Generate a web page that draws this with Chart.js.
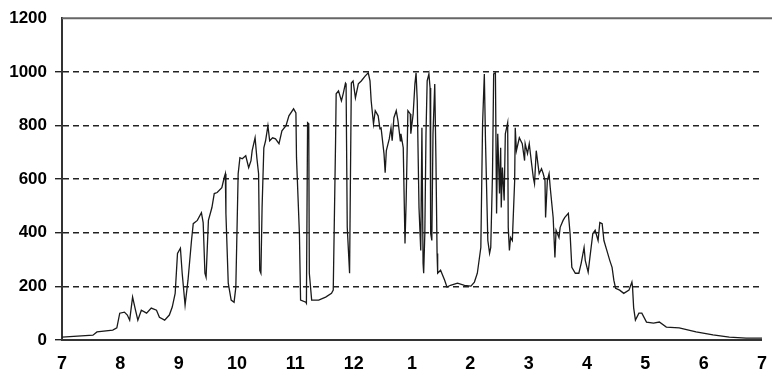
<!DOCTYPE html>
<html>
<head>
<meta charset="utf-8">
<script src="https://cdn.jsdelivr.net/npm/chart.js@4.4.1/dist/chart.umd.min.js"></script>
<style>
  html, body { margin: 0; padding: 0; background: #fff; }
  #wrap { width: 772px; height: 374px; }
</style>
</head>
<body>
<div id="wrap"><canvas id="chart"></canvas></div>
<script>
// hora do dia (decimal, 7h -> 19h) e irradiancia
const horas = [
  7.00, 7.53, 7.60, 7.87, 7.94, 7.99, 8.07, 8.12, 8.16, 8.21, 8.26, 8.30, 8.36, 8.45, 8.53, 8.62, 8.67, 8.76, 8.84, 8.89,
  8.94, 8.98, 9.03, 9.06, 9.11, 9.16, 9.22, 9.25, 9.32, 9.39, 9.42, 9.45, 9.47, 9.51, 9.57, 9.61, 9.66, 9.74, 9.78, 9.80,
  9.81, 9.85, 9.90, 9.95, 9.98, 10.02, 10.05, 10.09, 10.15, 10.20, 10.24, 10.26, 10.31, 10.34, 10.37, 10.39, 10.41, 10.43, 10.46, 10.49,
  10.53, 10.56, 10.61, 10.66, 10.72, 10.77, 10.84, 10.89, 10.97, 11.01, 11.02, 11.07, 11.09, 11.18, 11.19, 11.21, 11.23, 11.24, 11.28, 11.40,
  11.52, 11.62, 11.65, 11.69, 11.70, 11.74, 11.79, 11.82, 11.86, 11.87, 11.89, 11.93, 11.94, 11.96, 11.99, 12.03, 12.08, 12.13, 12.20, 12.25,
  12.28, 12.30, 12.34, 12.37, 12.42, 12.45, 12.47, 12.52, 12.54, 12.56, 12.61, 12.64, 12.66, 12.69, 12.73, 12.76, 12.80, 12.81, 12.85, 12.88,
  12.90, 12.93, 12.97, 12.98, 13.02, 13.05, 13.07, 13.09, 13.12, 13.15, 13.17, 13.19, 13.20, 13.22, 13.24, 13.26, 13.29, 13.31, 13.32, 13.34,
  13.36, 13.39, 13.41, 13.43, 13.44, 13.49, 13.56, 13.60, 13.66, 13.78, 13.90, 14.01, 14.07, 14.12, 14.18, 14.21, 14.24, 14.26, 14.30, 14.33,
  14.35, 14.38, 14.40, 14.43, 14.45, 14.47, 14.50, 14.52, 14.53, 14.55, 14.58, 14.60, 14.64, 14.65, 14.67, 14.69, 14.72, 14.76, 14.77, 14.79,
  14.84, 14.89, 14.93, 14.94, 14.98, 15.01, 15.05, 15.08, 15.10, 15.13, 15.18, 15.22, 15.25, 15.28, 15.29, 15.32, 15.35, 15.37, 15.42, 15.45,
  15.47, 15.52, 15.54, 15.59, 15.62, 15.68, 15.71, 15.74, 15.80, 15.86, 15.90, 15.95, 15.97, 16.02, 16.05, 16.10, 16.14, 16.19, 16.22, 16.26,
  16.29, 16.34, 16.39, 16.43, 16.46, 16.49, 16.56, 16.63, 16.72, 16.77, 16.78, 16.80, 16.83, 16.89, 16.94, 17.02, 17.14, 17.24, 17.36, 17.58,
  17.87, 18.16, 18.44, 18.73, 19.00
];
const irradiancia = [
  11, 18, 30, 37, 45, 100, 104, 93, 74, 160, 111, 74, 111, 100, 119, 111, 85, 74, 93, 123,
  174, 323, 342, 250, 130, 223, 371, 434, 446, 475, 438, 249, 234, 446, 494, 546, 550, 568, 605, 620,
  472, 212, 149, 141, 197, 620, 680, 676, 687, 643, 669, 706, 754, 680, 620, 260, 249, 494, 717, 743,
  799, 743, 754, 750, 732, 780, 799, 836, 862, 847, 680, 397, 149, 141, 137, 810, 806, 249, 149, 149,
  160, 174, 186, 743, 918, 929, 892, 918, 958, 955, 420, 249, 494, 958, 966, 903, 955, 966, 985, 996,
  966, 892, 806, 855, 836, 788, 791, 695, 624, 706, 750, 791, 743, 829, 855, 817, 743, 769, 717, 360,
  520, 855, 843, 769, 843, 955, 996, 892, 494, 334, 791, 286, 249, 397, 769, 966, 992, 940, 397, 371,
  769, 955, 680, 323, 249, 260, 223, 197, 204, 212, 204, 201, 216, 249, 345, 806, 992, 743, 371, 323,
  345, 620, 992, 996, 472, 769, 546, 717, 494, 643, 520, 769, 810, 420, 334, 382, 371, 594, 791, 706,
  754, 732, 669, 732, 695, 732, 658, 605, 583, 706, 620, 639, 620, 594, 457, 594, 620, 568, 457, 308,
  409, 382, 420, 446, 457, 472, 397, 271, 249, 249, 286, 345, 297, 253, 308, 397, 409, 371, 438, 434,
  371, 334, 297, 271, 223, 193, 186, 174, 186, 216, 200, 120, 74, 100, 100, 67, 63, 67, 48, 45,
  30, 19, 11, 7, 7
];
const horasEixo = [7, 8, 9, 10, 11, 12, 13, 14, 15, 16, 17, 18, 19];
const rotulosEixo = ['7', '8', '9', '10', '11', '12', '1', '2', '3', '4', '5', '6', '7'];
const ticksY = [0, 200, 400, 600, 800, 1000, 1200];

const pontos = horas.map((h, i) => ({ x: h, y: irradiancia[i] }));

// fundo branco
const fundoBranco = {
  id: 'fundoBranco',
  beforeDraw(chart) {
    const ctx = chart.ctx;
    ctx.save();
    ctx.fillStyle = '#fff';
    ctx.fillRect(0, 0, chart.width, chart.height);
    ctx.restore();
  }
};

// linha superior cinza (1200) ate a borda direita
const linhaTopo = {
  id: 'linhaTopo',
  afterDatasetsDraw(chart) {
    const { ctx, chartArea } = chart;
    ctx.save();
    ctx.strokeStyle = '#666';
    ctx.lineWidth = 2;
    ctx.beginPath();
    ctx.moveTo(chartArea.left, chartArea.top);
    ctx.lineTo(chart.width, chartArea.top);
    ctx.stroke();
    ctx.restore();
  }
};

const fonteEixo = "'Liberation Sans', Arial, sans-serif";

new Chart(document.getElementById('chart'), {
  type: 'line',
  data: {
    datasets: [{
      data: pontos,
      borderColor: '#1a1a1a',
      borderWidth: 1.3,
      pointRadius: 0,
      tension: 0,
      fill: false
    }]
  },
  options: {
    responsive: true,
    maintainAspectRatio: false,
    animation: false,
    layout: { padding: { top: 17, right: 6, left: 0, bottom: 0 } },
    plugins: { legend: { display: false }, tooltip: { enabled: false } },
    scales: {
      x: {
        type: 'linear',
        min: 7,
        max: 19,
        afterBuildTicks: (scale) => { scale.ticks = horasEixo.map(v => ({ value: v })); },
        afterFit: (scale) => { scale.height = 34; },
        grid: { display: false },
        border: { display: true, color: '#333', width: 2 },
        ticks: {
          autoSkip: false,
          maxRotation: 0,
          padding: 5,
          color: '#000',
          font: { family: fonteEixo, size: 18, weight: 'bold' },
          callback: (v) => rotulosEixo[horasEixo.indexOf(v)]
        }
      },
      y: {
        min: 0,
        max: 1200,
        afterBuildTicks: (scale) => { scale.ticks = ticksY.map(v => ({ value: v })); },
        afterFit: (scale) => { scale.width = 62; },
        grid: {
          color: (c) => (c.tick && c.tick.value === 1200) ? 'rgba(0,0,0,0)' : '#222',
          lineWidth: 1.4,
          drawTicks: true,
          tickLength: 7
        },
        border: {
          display: true,
          color: '#333',
          width: 2,
          dash: (c) => (c.tick && (c.tick.value === 0 || c.tick.value === 1200)) ? [] : [6, 4]
        },
        ticks: {
          padding: 8,
          color: '#000',
          font: { family: fonteEixo, size: 17, weight: 'bold' },
          callback: (v) => String(v)
        }
      }
    }
  },
  plugins: [fundoBranco, linhaTopo]
});
</script>
</body>
</html>
